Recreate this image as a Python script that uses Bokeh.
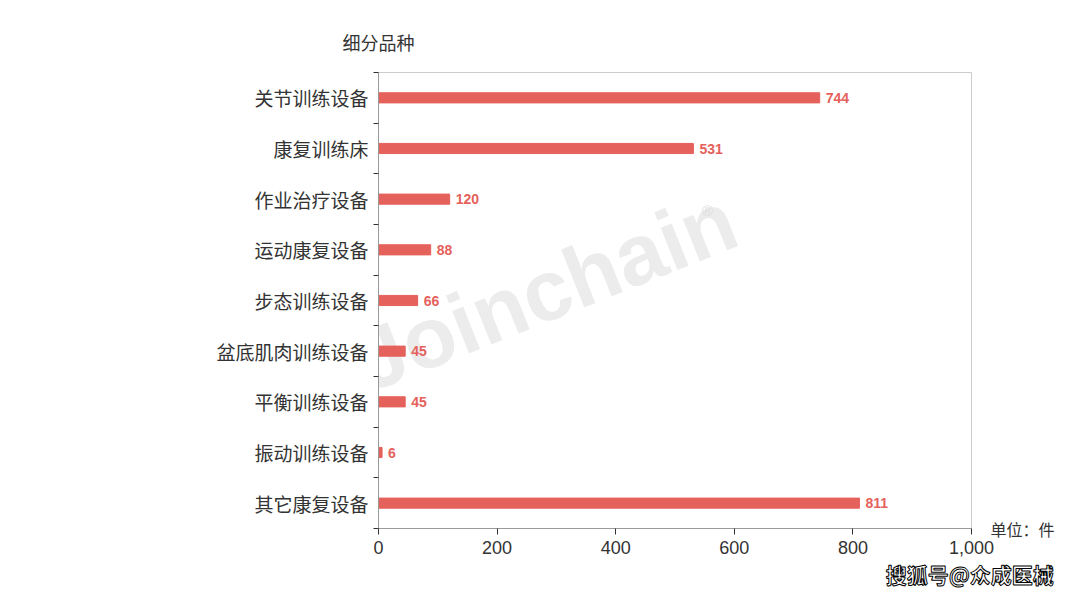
from bokeh.plotting import figure
from bokeh.models import (ColumnDataSource, Range1d, LinearAxis,
                          FixedTicker, NumeralTickFormatter, LabelSet, Label)
from bokeh.core.properties import value
from bokeh.embed import file_html
from bokeh.resources import INLINE

categories = ["关节训练设备", "康复训练床", "作业治疗设备", "运动康复设备", "步态训练设备",
              "盆底肌肉训练设备", "平衡训练设备", "振动训练设备", "其它康复设备"]
values = [744, 531, 120, 88, 66, 45, 45, 6, 811]
x_ticks = [0, 200, 400, 600, 800, 1000]
y_title = "细分品种"
unit_text = "单位：件"
source_text = "搜狐号@众成医械"

BAR = "#e5615b"
TXT = "#333333"
LATIN = "Liberation Sans"
CJK = "Noto Sans CJK SC"

n = len(categories)
# category slot i (top to bottom) occupies [2*(n-i-1), 2*(n-i)], centre at odd integer
centers = [2 * (n - i) - 1 for i in range(n)]
bounds = list(range(0, 2 * n + 1, 2))
src = ColumnDataSource(dict(y=centers, val=values, lbl=[str(v) for v in values]))

p = figure(width=1072, height=596, output_backend="svg", toolbar_location=None,
           y_range=Range1d(0, 2 * n), x_range=Range1d(0, 1000),
           y_axis_location=None, x_axis_location=None,
           min_border_left=378, min_border_right=101, min_border_top=72, min_border_bottom=68)

p.outline_line_color = "#cccccc"
p.xgrid.visible = False
p.ygrid.visible = False
p.background_fill_color = "white"
p.border_fill_color = "white"


def set_outline(ax, color):
    if hasattr(ax, "major_label_text_outline_color"):
        ax.major_label_text_outline_color = color


# watermark
p.add_layout(Label(x=167, y=238, x_units="screen", y_units="screen", text="Joinchain",
                   angle=0.38, text_align="center", text_baseline="middle",
                   text_font=LATIN, text_font_style="bold", text_font_size="86px",
                   text_color="#ececec", level="underlay"))
p.add_layout(Label(x=329, y=318, x_units="screen", y_units="screen", text="®",
                   text_align="center", text_baseline="middle", text_font=LATIN,
                   text_font_size="15px", text_color="#dddddd", level="underlay"))

p.hbar(y="y", right="val", left=0, height=0.4, source=src, color=BAR)

p.add_layout(LabelSet(x="val", y="y", text="lbl", source=src, x_offset=6,
                      text_baseline="middle", text_font=value(LATIN), text_font_style="bold",
                      text_font_size="14px", text_color=BAR))

# x axis
xa = LinearAxis(ticker=FixedTicker(ticks=x_ticks), formatter=NumeralTickFormatter(format="0,0"))
xa.axis_line_color = "#999999"
xa.major_tick_line_color = TXT
xa.major_tick_out = 6
xa.major_tick_in = 0
xa.minor_tick_line_color = None
xa.major_label_text_font = LATIN
xa.major_label_text_font_size = "18px"
xa.major_label_text_color = TXT
xa.major_label_standoff = 6
p.add_layout(xa, "below")

# source note (second axis below, single tick near the right end)
sa = LinearAxis(ticker=FixedTicker(ticks=[997]))
sa.major_label_overrides = {997: source_text}
sa.axis_line_color = None
sa.major_tick_line_color = None
sa.minor_tick_line_color = None
sa.major_tick_out = 0
sa.major_tick_in = 0
sa.major_label_standoff = 2
sa.major_label_text_font = CJK
sa.major_label_text_font_style = "bold"
sa.major_label_text_font_size = "21px"
sa.major_label_text_color = "white"
set_outline(sa, "black")
p.add_layout(sa, "below")

# y-axis title as top axis label at x = 0
tt = LinearAxis(ticker=FixedTicker(ticks=[0]))
tt.major_label_overrides = {0: y_title}
tt.axis_line_color = None
tt.major_tick_line_color = None
tt.minor_tick_line_color = None
tt.major_tick_out = 0
tt.major_tick_in = 0
tt.major_label_standoff = 18
tt.major_label_text_font = CJK
tt.major_label_text_font_size = "18px"
tt.major_label_text_color = TXT
p.add_layout(tt, "above")

# unit note on the right at the bottom of the frame
ua = LinearAxis(ticker=FixedTicker(ticks=[0]))
ua.major_label_overrides = {0: unit_text}
ua.axis_line_color = None
ua.major_tick_line_color = None
ua.minor_tick_line_color = None
ua.major_tick_out = 0
ua.major_tick_in = 0
ua.major_label_standoff = 19
ua.major_label_text_font = CJK
ua.major_label_text_font_size = "16px"
ua.major_label_text_color = TXT
p.add_layout(ua, "right")

# y boundary ticks axis (nearest frame)
ta = LinearAxis(ticker=FixedTicker(ticks=bounds))
ta.major_label_overrides = {b: "" for b in bounds}
ta.major_label_text_font_size = "0px"
ta.major_label_standoff = 0
ta.axis_line_color = "#999999"
ta.major_tick_line_color = TXT
ta.major_tick_out = 5
ta.major_tick_in = 0
ta.minor_tick_line_color = None
p.add_layout(ta, "left")

# category label axis
ca = LinearAxis(ticker=FixedTicker(ticks=centers))
ca.major_label_overrides = {c: name for c, name in zip(centers, categories)}
ca.axis_line_color = None
ca.major_tick_line_color = None
ca.minor_tick_line_color = None
ca.major_tick_out = 0
ca.major_tick_in = 0
ca.major_label_standoff = 5
ca.major_label_text_font = CJK
ca.major_label_text_font_size = "19px"
ca.major_label_text_color = TXT
p.add_layout(ca, "left")

open("out.html", "w").write(file_html(p, INLINE))
